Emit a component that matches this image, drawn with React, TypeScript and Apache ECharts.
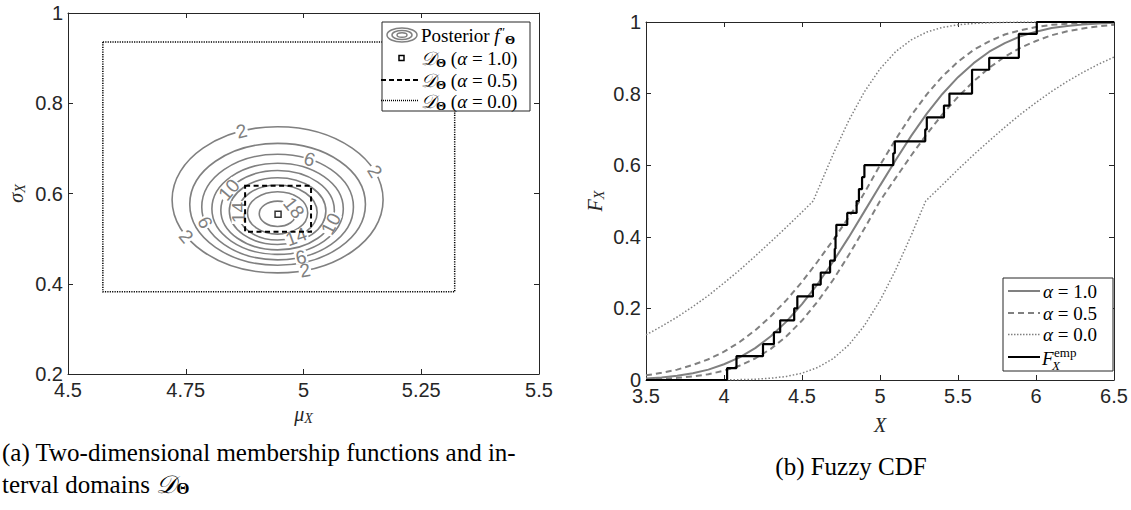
import React, { useEffect, useRef } from "react";
import * as echarts from "echarts";

// ---------------- Left panel data (posterior of mu_X, sigma_X) ----------------
const contourLevels = [2, 4, 6, 8, 10, 12, 14, 16, 18];
const contourCenterMu = [4.945, 4.945, 4.945, 4.945, 4.945, 4.945, 4.945, 4.945, 4.945];
const contourCenterSigma = [0.586, 0.576, 0.570, 0.566, 0.563, 0.561, 0.558, 0.557, 0.555];
const contourHalfMu = [0.224, 0.1865, 0.161, 0.1395, 0.1205, 0.1025, 0.084, 0.064, 0.039];
const contourHalfSigma = [0.162, 0.135, 0.117, 0.101, 0.088, 0.074, 0.061, 0.047, 0.028];
const contourLabelLevels = [2, 2, 2, 2, 6, 6, 6, 10, 10, 14, 14, 18];
const contourLabelAngles = [110, 23, 210, -75, 65, 197, -72, 149, -20, 180, -62, 28];
// interval domains: [muMin, muMax, sigmaMin, sigmaMax]
const domainAlpha0 = [4.574, 5.321, 0.382, 0.936];
const domainAlpha05 = [4.876, 5.016, 0.515, 0.617];
const domainAlpha1 = [4.946, 0.554];

// ---------------- Right panel data (fuzzy CDF) ----------------
const cdfX = [3.5, 3.6, 3.7, 3.8, 3.9, 4.0, 4.1, 4.2, 4.3, 4.4, 4.5, 4.6, 4.7, 4.8, 4.9, 5.0,
  5.1, 5.2, 5.3, 5.4, 5.5, 5.6, 5.7, 5.8, 5.9, 6.0, 6.1, 6.2, 6.3, 6.4, 6.5];
const cdfAlpha1 = [0.004, 0.007, 0.012, 0.019, 0.029, 0.044, 0.063, 0.089, 0.122, 0.163, 0.212, 0.268,
  0.331, 0.399, 0.471, 0.543, 0.614, 0.682, 0.744, 0.799, 0.846, 0.885, 0.917, 0.941, 0.960, 0.973,
  0.983, 0.989, 0.993, 0.996, 0.998];
const cdfAlpha05Upper = [0.013, 0.020, 0.029, 0.042, 0.058, 0.079, 0.106, 0.139, 0.178, 0.223, 0.274,
  0.331, 0.391, 0.455, 0.523, 0.600, 0.672, 0.739, 0.798, 0.848, 0.889, 0.922, 0.946, 0.965, 0.977,
  0.986, 0.992, 0.995, 0.997, 0.998, 0.999];
const cdfAlpha05Lower = [0.002, 0.003, 0.006, 0.010, 0.016, 0.026, 0.040, 0.060, 0.087, 0.122, 0.166,
  0.219, 0.280, 0.349, 0.423, 0.500, 0.564, 0.627, 0.687, 0.742, 0.791, 0.834, 0.872, 0.903, 0.928,
  0.947, 0.963, 0.974, 0.982, 0.988, 0.992];
const cdfAlpha0Upper = [0.126, 0.150, 0.176, 0.205, 0.236, 0.271, 0.307, 0.346, 0.386, 0.427, 0.469,
  0.529, 0.631, 0.725, 0.805, 0.869, 0.917, 0.950, 0.972, 0.985, 0.992, 0.996, 0.998, 0.999, 1, 1,
  1, 1, 1, 1, 1];
const cdfAlpha0Lower = [0, 0, 0, 0, 0, 0, 0.001, 0.002, 0.005, 0.010, 0.019, 0.035, 0.060, 0.098,
  0.152, 0.222, 0.307, 0.404, 0.503, 0.545, 0.588, 0.629, 0.668, 0.706, 0.742, 0.775, 0.806, 0.834,
  0.859, 0.882, 0.902];
// kink points of the piecewise bounds
const kinkAlpha05Upper = [4.87, 0.5];
const kinkAlpha0Upper = [4.572, 0.5];
const kinkAlpha0Lower = [5.293, 0.5];
// sorted sample for the empirical CDF
const sample = [4.02, 4.08, 4.25, 4.32, 4.36, 4.45, 4.47, 4.57, 4.62, 4.68, 4.71, 4.715, 4.72, 4.79,
  4.85, 4.865, 4.885, 4.90, 5.085, 5.095, 5.29, 5.30, 5.41, 5.445, 5.59, 5.59, 5.70, 5.89, 5.89, 6.005];

const AX = "#262626";
const GRAY = "#808080";
const SANS = '"Liberation Sans", Arial, Helvetica, sans-serif';
const SERIF = '"Liberation Serif", "Times New Roman", serif';

function curve(ys: number[], kink?: number[]) {
  const pts = cdfX.map((x, i) => [x, ys[i]]);
  if (kink) pts.push(kink);
  pts.sort((a, b) => a[0] - b[0]);
  return pts;
}

function axis(gridIndex: number, min: number, max: number, interval: number, position: string, showLabel: boolean, isX: boolean, extra: any = {}) {
  return {
    type: "value", gridIndex, min, max, interval, position,
    axisLine: { show: true, onZero: false, lineStyle: { color: AX, width: 1 } },
    axisTick: { show: true, inside: true, length: 5, lineStyle: { color: AX, width: 1 } },
    axisLabel: {
      show: showLabel, color: AX, fontFamily: SANS, fontSize: 20,
      margin: isX ? 8 : 5, lineHeight: isX ? 15 : 14,
    },
    splitLine: { show: false },
    ...extra,
  };
}

function mathRich(size: number, color: string) {
  const sub = Math.round(size * 0.68);
  return {
    n: { fontFamily: SERIF, fontSize: size, fill: color, color },
    i: { fontFamily: SERIF, fontSize: size, fontStyle: "italic", fill: color, color },
    cal: { fontFamily: SERIF, fontSize: size, fontStyle: "italic", fill: color, color },
    sub: { fontFamily: SERIF, fontSize: sub, fontStyle: "italic", fill: color, color, verticalAlign: "bottom", padding: [8, 0, 0, 0] },
    subb: { fontFamily: SERIF, fontSize: sub, fontWeight: "bold", fill: color, color, verticalAlign: "bottom", padding: [8, 0, 0, 0] },
    sup: { fontFamily: SERIF, fontSize: sub, fill: color, color, verticalAlign: "top", padding: [0, 0, 8, 0] },
  };
}

function buildOption() {
  const contourData = contourLevels.map((l, k) => [l, contourCenterMu[k], contourCenterSigma[k], contourHalfMu[k], contourHalfSigma[k]]);
  const labelData = contourLabelLevels.map((l, k) => [l, contourLabelAngles[k]]);
  const ecdf = [[3.5, 0], ...sample.map((v, i) => [v, (i + 1) / sample.length]), [6.5, 1]];

  const rectItem = (lineWidth: number, dash: number[]) => (params: any, api: any) => {
    const a = api.coord([api.value(0), api.value(3)]);
    const b = api.coord([api.value(1), api.value(2)]);
    return {
      type: "rect",
      shape: { x: a[0], y: a[1], width: b[0] - a[0], height: b[1] - a[1] },
      style: { fill: "none", stroke: "#000", lineWidth, lineDash: dash },
    };
  };

  const lr = mathRich(19, "#000");
  const legendLeft: any[] = [
    { type: "rect", shape: { x: 382, y: 22, width: 148, height: 89 }, style: { fill: "#fff", stroke: AX, lineWidth: 1 } },
    { type: "ellipse", shape: { cx: 402, cy: 35, rx: 15, ry: 7 }, style: { fill: "none", stroke: GRAY, lineWidth: 1.5 } },
    { type: "ellipse", shape: { cx: 402, cy: 35, rx: 10, ry: 4.6 }, style: { fill: "none", stroke: GRAY, lineWidth: 1.5 } },
    { type: "ellipse", shape: { cx: 402, cy: 35, rx: 5, ry: 2.3 }, style: { fill: "none", stroke: GRAY, lineWidth: 1.5 } },
    { type: "rect", shape: { x: 399, y: 55.5, width: 5, height: 5 }, style: { fill: "#fff", stroke: "#000", lineWidth: 1.5 } },
    { type: "line", shape: { x1: 381, y1: 80, x2: 418, y2: 80 }, style: { stroke: "#000", lineWidth: 2, lineDash: [5, 3] } },
    { type: "line", shape: { x1: 381, y1: 100.5, x2: 418, y2: 100.5 }, style: { stroke: "#000", lineWidth: 1.5, lineDash: [1, 1] } },
    { type: "text", x: 421, y: 35, style: { text: "{n|Posterior }{i|f}{sup|″}{subb|Θ}", rich: lr, verticalAlign: "middle" } },
    { type: "text", x: 421, y: 58, style: { text: "{cal|𝒟}{subb|Θ}{n| (}{i|α}{n| = 1.0)}", rich: lr, verticalAlign: "middle" } },
    { type: "text", x: 421, y: 80, style: { text: "{cal|𝒟}{subb|Θ}{n| (}{i|α}{n| = 0.5)}", rich: lr, verticalAlign: "middle" } },
    { type: "text", x: 421, y: 101, style: { text: "{cal|𝒟}{subb|Θ}{n| (}{i|α}{n| = 0.0)}", rich: lr, verticalAlign: "middle" } },
  ];
  const legendRight: any[] = [
    { type: "rect", shape: { x: 1003, y: 278, width: 110, height: 93 }, style: { fill: "#fff", stroke: AX, lineWidth: 1 } },
    { type: "line", shape: { x1: 1008, y1: 291, x2: 1040, y2: 291 }, style: { stroke: GRAY, lineWidth: 2 } },
    { type: "line", shape: { x1: 1008, y1: 313, x2: 1040, y2: 313 }, style: { stroke: GRAY, lineWidth: 2, lineDash: [6, 4] } },
    { type: "line", shape: { x1: 1008, y1: 334.5, x2: 1040, y2: 334.5 }, style: { stroke: GRAY, lineWidth: 1.5, lineDash: [1.5, 1.5] } },
    { type: "line", shape: { x1: 1008, y1: 357, x2: 1040, y2: 357 }, style: { stroke: "#000", lineWidth: 2 } },
    { type: "text", x: 1043, y: 291, style: { text: "{i|α}{n| = 1.0}", rich: lr, verticalAlign: "middle" } },
    { type: "text", x: 1043, y: 313, style: { text: "{i|α}{n| = 0.5}", rich: lr, verticalAlign: "middle" } },
    { type: "text", x: 1043, y: 334, style: { text: "{i|α}{n| = 0.0}", rich: lr, verticalAlign: "middle" } },
    { type: "text", x: 1042, y: 358, style: { text: "F", font: `italic 19px ${SERIF}`, fill: "#000", verticalAlign: "middle" } },
    { type: "text", x: 1054, y: 352, style: { text: "emp", font: `13px ${SERIF}`, fill: "#000", verticalAlign: "middle" } },
    { type: "text", x: 1052, y: 365, style: { text: "X", font: `italic 13px ${SERIF}`, fill: "#000", verticalAlign: "middle" } },
  ];
  const cr = mathRich(25, "#000");
  const captions: any[] = [
    { type: "text", x: 2, y: 452, style: { text: "(a) Two-dimensional membership functions and in-", font: `25px ${SERIF}`, fill: "#000", verticalAlign: "middle" } },
    { type: "text", x: 2, y: 484, style: { text: "{n|terval domains }{cal|𝒟}{subb|Θ}", rich: cr, verticalAlign: "middle" } },
    { type: "text", x: 851, y: 466, style: { text: "(b) Fuzzy CDF", font: `25px ${SERIF}`, fill: "#000", align: "center", verticalAlign: "middle" } },
  ];

  const nameRich = mathRich(20, AX);

  return {
    animation: false,
    backgroundColor: "#fff",
    grid: [
      { left: 68, top: 13, width: 471, height: 361 },
      { left: 646, top: 22, width: 468, height: 358 },
    ],
    xAxis: [
      axis(0, 4.5, 5.5, 0.25, "bottom", true, true, {
        name: "{i|μ}{sub|X}", nameLocation: "middle", nameGap: 18,
        nameTextStyle: { rich: nameRich, verticalAlign: "top" },
      }),
      axis(0, 4.5, 5.5, 0.25, "top", false, true),
      axis(1, 3.5, 6.5, 0.5, "bottom", true, true, {
        name: "{i|X}", nameLocation: "middle", nameGap: 35,
        nameTextStyle: { rich: nameRich },
      }),
      axis(1, 3.5, 6.5, 0.5, "top", false, true),
    ],
    yAxis: [
      axis(0, 0.2, 1, 0.2, "left", true, false, {
        name: "{i|σ}{sub|X}", nameLocation: "middle", nameGap: 41, nameRotate: 90,
        nameTextStyle: { rich: nameRich },
      }),
      axis(0, 0.2, 1, 0.2, "right", false, false),
      axis(1, 0, 1, 0.2, "left", true, false, {
        name: "{i|F}{sub|X}", nameLocation: "middle", nameGap: 40, nameRotate: 90,
        nameTextStyle: { rich: nameRich },
      }),
      axis(1, 0, 1, 0.2, "right", false, false),
    ],
    series: [
      {
        type: "custom", name: "contours", xAxisIndex: 0, yAxisIndex: 0, silent: true, z: 2,
        data: contourData, encode: { x: 1, y: 2 },
        renderItem: (params: any, api: any) => {
          const c = api.coord([api.value(1), api.value(2)]);
          const s = api.size([api.value(3), api.value(4)]);
          return {
            type: "ellipse",
            shape: { cx: c[0], cy: c[1], rx: s[0], ry: s[1] },
            style: { fill: "none", stroke: GRAY, lineWidth: 1.6 },
          };
        },
      },
      {
        type: "custom", name: "contour labels", xAxisIndex: 0, yAxisIndex: 0, silent: true, z: 3,
        data: labelData,
        renderItem: (params: any, api: any) => {
          const lvl = api.value(0);
          const ang = (api.value(1) * Math.PI) / 180;
          const k = contourLevels.indexOf(lvl);
          const c = api.coord([
            contourCenterMu[k] + contourHalfMu[k] * Math.cos(ang),
            contourCenterSigma[k] + contourHalfSigma[k] * Math.sin(ang),
          ]);
          const s = api.size([contourHalfMu[k], contourHalfSigma[k]]);
          let phi = Math.atan2(s[1] * Math.cos(ang), -s[0] * Math.sin(ang));
          if (phi > Math.PI / 2) phi -= Math.PI;
          if (phi < -Math.PI / 2) phi += Math.PI;
          return {
            type: "text", x: c[0], y: c[1], rotation: phi,
            style: {
              text: String(lvl), fill: GRAY, font: `19px ${SANS}`,
              align: "center", verticalAlign: "middle",
              backgroundColor: "#fff", padding: [0, 1], lineHeight: 13,
            },
          };
        },
      },
      {
        type: "custom", name: "alpha0 domain", xAxisIndex: 0, yAxisIndex: 0, silent: true, z: 4,
        data: [domainAlpha0], encode: { x: [0, 1], y: [2, 3] },
        renderItem: rectItem(1.5, [1.2, 1.2]),
      },
      {
        type: "custom", name: "alpha05 domain", xAxisIndex: 0, yAxisIndex: 0, silent: true, z: 4,
        data: [domainAlpha05], encode: { x: [0, 1], y: [2, 3] },
        renderItem: rectItem(2, [5, 3.5]),
      },
      {
        type: "scatter", name: "alpha1 domain", xAxisIndex: 0, yAxisIndex: 0, silent: true, z: 5,
        data: [domainAlpha1], symbol: "rect", symbolSize: 6,
        itemStyle: { color: "#fff", borderColor: "#000", borderWidth: 1.5 },
      },
      {
        type: "line", name: "α = 0.0 upper", xAxisIndex: 2, yAxisIndex: 2, silent: true, showSymbol: false, symbol: "none",
        data: curve(cdfAlpha0Upper, kinkAlpha0Upper), lineStyle: { color: GRAY, width: 1.5, type: [1.5, 2] }, z: 2,
      },
      {
        type: "line", name: "α = 0.0 lower", xAxisIndex: 2, yAxisIndex: 2, silent: true, showSymbol: false, symbol: "none",
        data: curve(cdfAlpha0Lower, kinkAlpha0Lower), lineStyle: { color: GRAY, width: 1.5, type: [1.5, 2] }, z: 2,
      },
      {
        type: "line", name: "α = 0.5 upper", xAxisIndex: 2, yAxisIndex: 2, silent: true, showSymbol: false, symbol: "none",
        data: curve(cdfAlpha05Upper, kinkAlpha05Upper), lineStyle: { color: GRAY, width: 2, type: [6, 4] }, z: 2,
      },
      {
        type: "line", name: "α = 0.5 lower", xAxisIndex: 2, yAxisIndex: 2, silent: true, showSymbol: false, symbol: "none",
        data: curve(cdfAlpha05Lower), lineStyle: { color: GRAY, width: 2, type: [6, 4] }, z: 2,
      },
      {
        type: "line", name: "α = 1.0", xAxisIndex: 2, yAxisIndex: 2, silent: true, showSymbol: false, symbol: "none",
        data: curve(cdfAlpha1), lineStyle: { color: GRAY, width: 2 }, z: 3,
      },
      {
        type: "line", name: "F_X^emp", xAxisIndex: 2, yAxisIndex: 2, silent: true, showSymbol: false, symbol: "none",
        step: "end", data: ecdf, lineStyle: { color: "#000", width: 2.2 }, z: 4,
      },
    ],
    graphic: [...legendLeft, ...legendRight, ...captions].map((e) => ({ ...e, z: 100, silent: true })),
  };
}

export default function App() {
  const ref = useRef<HTMLDivElement>(null);
  useEffect(() => {
    if (!ref.current) return;
    const chart = echarts.init(ref.current, null, { renderer: "svg" });
    chart.setOption(buildOption() as any);
    return () => chart.dispose();
  }, []);
  return (
    <div
      ref={ref}
      style={{ position: "fixed", left: 0, top: 0, width: 1131, height: 510, background: "#fff" }}
    />
  );
}
